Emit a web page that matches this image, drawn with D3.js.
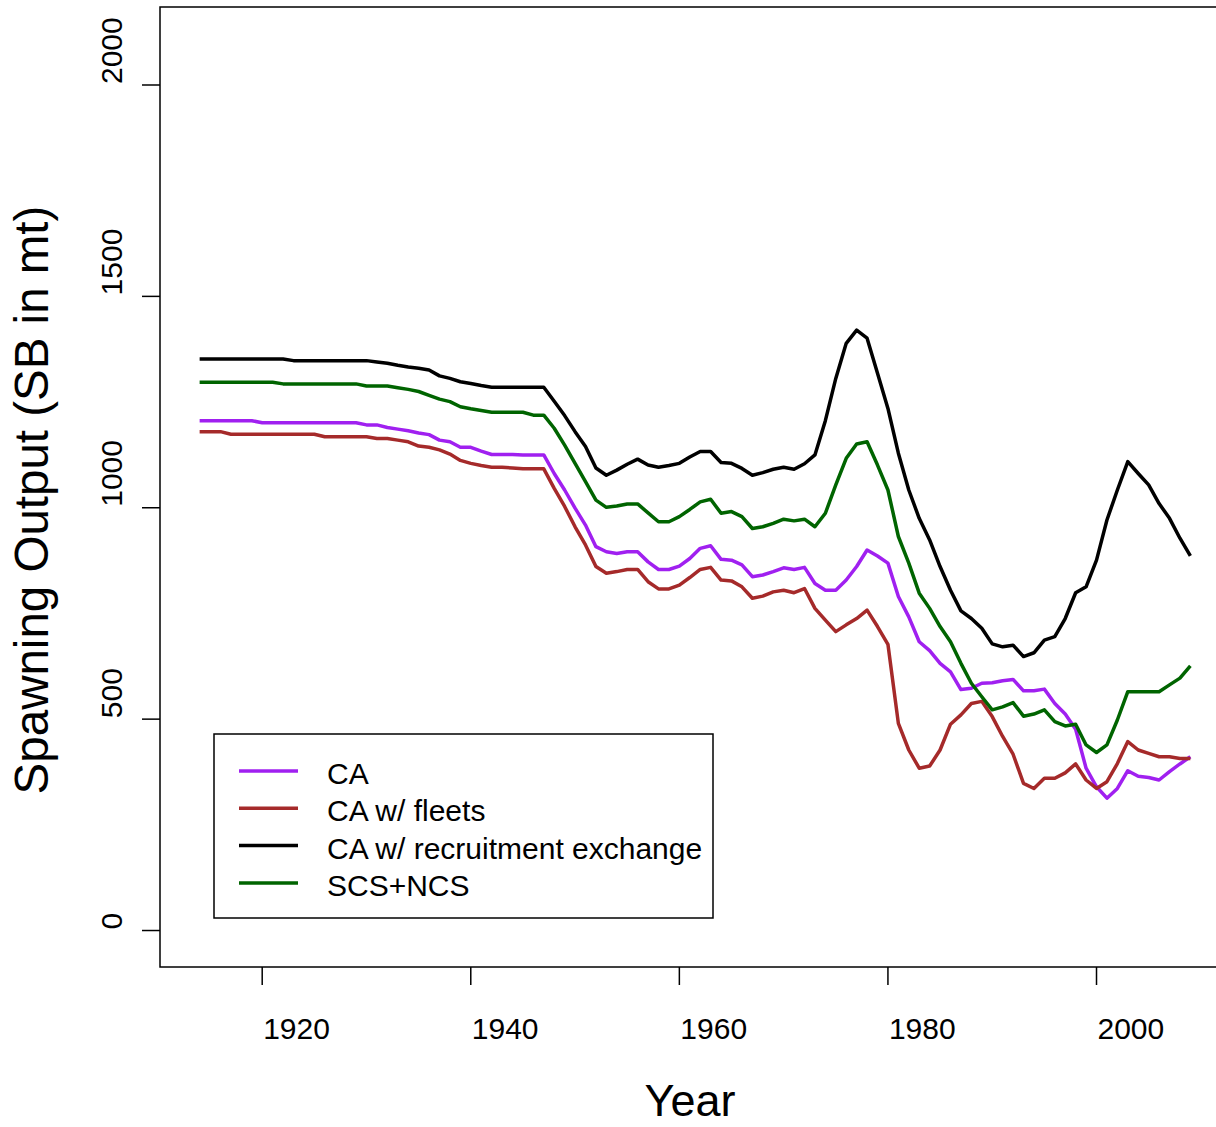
<!DOCTYPE html>
<html>
<head>
<meta charset="utf-8">
<script src="https://cdn.jsdelivr.net/npm/d3@7"></script>
<style>
  body { margin: 0; background: #fff; }
  svg { display: block; font-family: "Liberation Sans", Arial, sans-serif; }
</style>
</head>
<body>
<svg id="chart" width="1216" height="1127"></svg>
<script>
var years = d3.range(1914, 2010);

// CA
var caValues = [
  1206,1206,1206,1206,1206,1206,
  1201,1201,1201,1201,1201,1201,1201,1201,1201,1201,
  1196,1196,1190,1186,1182,1177,1173,1160,1156,1143,
  1143,1134,1126,1126,1126,1125,1125,1125,1081,1042,
  999,959,908,896,892,896,896,872,854,854,
  862,880,904,910,878,876,865,837,841,849,
  858,854,859,821,805,805,829,861,900,886,
  869,790,742,683,662,632,612,570,573,585,
  586,591,594,567,567,571,537,512,476,384,
  340,313,336,378,365,362,356,376,394,411
];
// CA w/ fleets
var fleetValues = [
  1180,1180,1180,1174,1174,1174,
  1174,1174,1174,1174,1174,1174,1168,1168,1168,1168,
  1168,1164,1164,1160,1156,1146,1143,1137,1127,1112,
  1105,1100,1096,1096,1094,1092,1092,1092,1046,1003,
  955,912,861,845,849,854,854,825,808,808,
  817,835,854,859,829,827,813,786,791,801,
  805,799,809,762,734,707,723,738,758,719,
  677,490,427,384,389,427,488,510,537,542,
  506,459,417,348,336,360,360,373,394,356,
  336,352,395,447,427,419,411,411,407,407
];
// CA w/ recruitment exchange
var recValues = [
  1352,1352,1352,1352,1352,1352,
  1352,1352,1352,1348,1348,1348,1348,1348,1348,1348,
  1348,1345,1342,1337,1333,1330,1326,1312,1306,1298,
  1294,1289,1285,1285,1285,1285,1285,1285,1252,1218,
  1180,1145,1094,1077,1089,1103,1115,1101,1096,1100,
  1105,1120,1133,1133,1107,1105,1093,1077,1083,1091,
  1096,1091,1104,1125,1206,1306,1389,1420,1401,1318,
  1235,1129,1042,975,924,861,805,756,738,715,
  678,671,675,648,657,687,695,738,799,813,
  876,971,1042,1109,1081,1054,1010,975,928,886
];
// SCS+NCS
var scsValues = [
  1297,1297,1297,1297,1297,1297,
  1297,1297,1293,1293,1293,1293,1293,1293,1293,1293,
  1288,1288,1288,1284,1280,1275,1266,1257,1251,1239,
  1234,1230,1226,1226,1226,1226,1219,1219,1188,1148,
  1105,1062,1018,1001,1004,1009,1009,988,967,967,
  979,996,1014,1020,987,991,979,951,955,963,
  973,969,973,955,987,1054,1117,1151,1156,1101,
  1042,932,869,798,762,719,683,632,585,553,
  522,529,539,507,512,522,494,484,488,439,
  421,439,498,565,565,565,565,581,597,626
];

var seriesNames = ["CA", "CA w/ fleets", "CA w/ recruitment exchange", "SCS+NCS"];
var seriesColors = ["#a020f0", "#a52a2a", "#000000", "#006400"];
var seriesValues = [caValues, fleetValues, recValues, scsValues];

var xTicks = [1920, 1940, 1960, 1980, 2000];
var yTicks = [0, 500, 1000, 1500, 2000];

var svg = d3.select("#chart");

// plot region (right side runs past the window edge, as in the original)
var plotLeft = 160, plotRight = 1230, plotTop = 7, plotBottom = 967;

var xscale = d3.scaleLinear()
    .domain([1910.2, 2012.8])
    .range([plotLeft, plotRight]);
var yscale = d3.scaleLinear()
    .domain([-86.3, 2184.5])
    .range([plotBottom, plotTop]);

var line = d3.line()
    .x(function(d, i) { return xscale(years[i]); })
    .y(function(d) { return yscale(d); });

seriesValues.forEach(function(vals, k) {
  svg.append("path")
    .datum(vals)
    .attr("d", line)
    .attr("fill", "none")
    .attr("stroke", seriesColors[k])
    .attr("stroke-width", 3.5)
    .attr("stroke-linejoin", "round");
});

// box
svg.append("rect")
  .attr("x", plotLeft).attr("y", plotTop)
  .attr("width", plotRight - plotLeft).attr("height", plotBottom - plotTop)
  .attr("fill", "none").attr("stroke", "#000").attr("stroke-width", 1.5);

// x axis
var xAxis = svg.append("g").attr("transform", "translate(0," + plotBottom + ")");
xAxis.selectAll("line").data(xTicks).enter().append("line")
  .attr("x1", xscale).attr("x2", xscale)
  .attr("y1", 0).attr("y2", 18)
  .attr("stroke", "#000").attr("stroke-width", 1.5);
xAxis.selectAll("text").data(xTicks).enter().append("text")
  .attr("x", function(d) { return xscale(d) + 1; })
  .attr("y", 72)
  .attr("font-size", 30)
  .text(function(d) { return d; });

// y axis
var yAxis = svg.append("g").attr("transform", "translate(" + plotLeft + ",0)");
yAxis.selectAll("line").data(yTicks).enter().append("line")
  .attr("x1", -18).attr("x2", 0)
  .attr("y1", yscale).attr("y2", yscale)
  .attr("stroke", "#000").attr("stroke-width", 1.5);
yAxis.selectAll("text").data(yTicks).enter().append("text")
  .attr("transform", function(d) { return "translate(-38," + (yscale(d) - 1) + ") rotate(-90)"; })
  .attr("font-size", 30)
  .text(function(d) { return d; });

// axis titles
svg.append("text")
  .attr("x", 690).attr("y", 1116)
  .attr("text-anchor", "middle")
  .attr("font-size", 45)
  .text("Year");
svg.append("text")
  .attr("transform", "translate(48,500) rotate(-90)")
  .attr("text-anchor", "middle")
  .attr("font-size", 47.5)
  .text("Spawning Output (SB in mt)");

// legend
var legend = svg.append("g");
legend.append("rect")
  .attr("x", 214).attr("y", 734).attr("width", 499).attr("height", 184)
  .attr("fill", "#fff").attr("stroke", "#000").attr("stroke-width", 1.5);
var rows = legend.selectAll("g.row").data(seriesNames).enter().append("g")
  .attr("class", "row")
  .attr("transform", function(d, i) { return "translate(0," + (771 + i * 37.3) + ")"; });
rows.append("line")
  .attr("x1", 239).attr("x2", 298)
  .attr("stroke", function(d, i) { return seriesColors[i]; })
  .attr("stroke-width", 3.5);
rows.append("text")
  .attr("x", 327).attr("y", 13)
  .attr("font-size", 30)
  .text(function(d) { return d; });
</script>
</body>
</html>
